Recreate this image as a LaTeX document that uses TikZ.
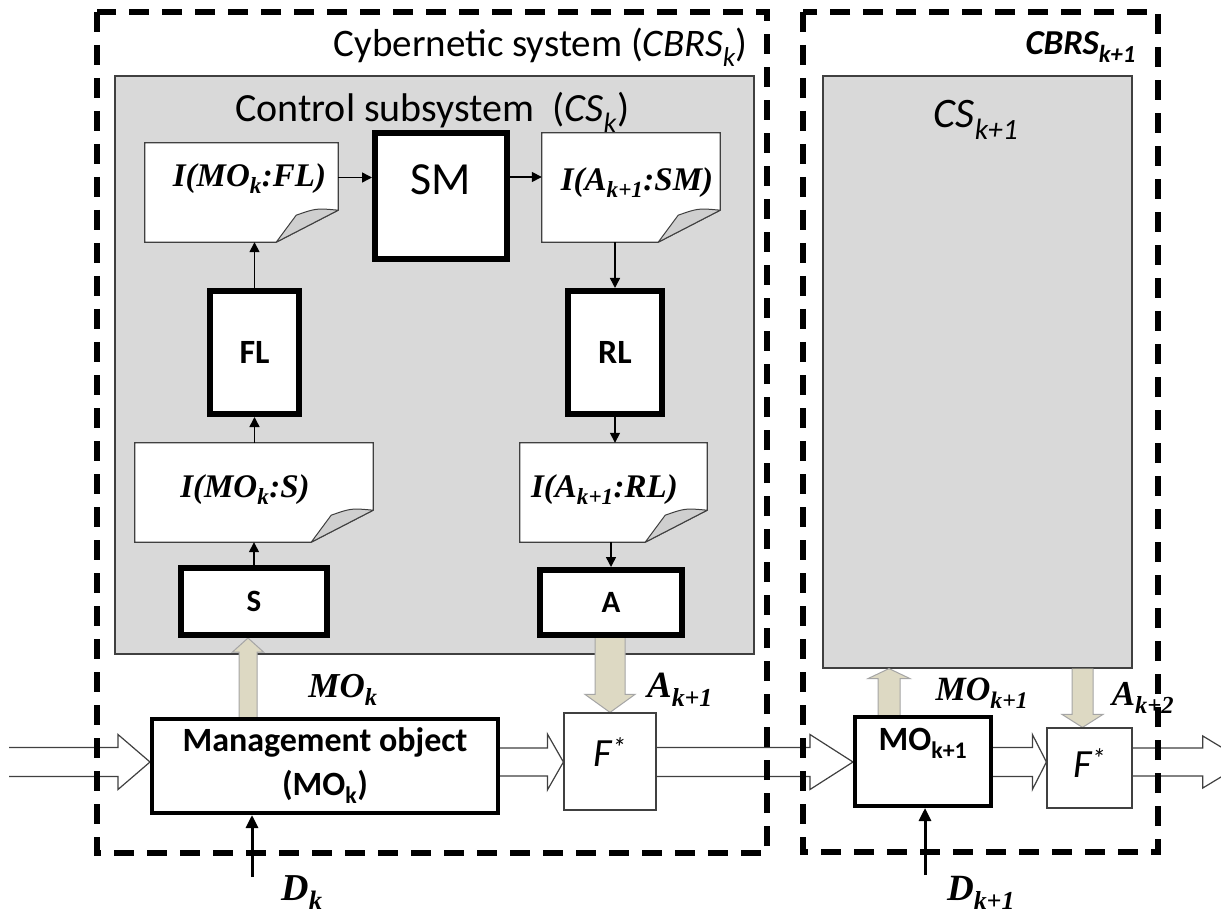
\documentclass[tikz,border=0pt]{standalone}
\usepackage{fontspec}
\setmainfont{Liberation Serif}
\newfontfamily\calib{Carlito}
\usetikzlibrary{calc,arrows.meta}
\definecolor{csgray}{HTML}{D9D9D9}
\definecolor{beige}{HTML}{DDD9C3}
\definecolor{beigeline}{HTML}{A5A5A5}
\definecolor{darkline}{HTML}{404040}
\definecolor{foldgray}{HTML}{CFCFCF}
\pgfdeclarelayer{back}
\pgfdeclarelayer{mid}
\pgfsetlayers{back,mid,main}

\newcommand\docnode[7]{% name, cx, cy, w, h, text shift, text
  \node[docarea, minimum width=#4pt, minimum height=#5pt] (#1) at (#2,#3) {};
  \draw[docline] (#1.north west) -- (#1.north east) -- ([yshift=32pt]#1.south east)
     -- ([xshift=-62pt]#1.south east) -- (#1.south west) -- cycle;
  \draw[fold] ([xshift=-62pt]#1.south east) -- ([xshift=-42pt,yshift=27pt]#1.south east)
     .. controls ([xshift=-22pt,yshift=34pt]#1.south east) .. ([yshift=32pt]#1.south east) -- cycle;
  \node[doctext] at ([#6]#1.center) {#7};
}
\newcommand\hblock[5]{% from, to, shaft half, head half, head length
  \draw[blk] let \p1=(#1.east), \p2=(#2.west), \p3=(flow) in
    (\x1,\y3+#3pt) -- (\x2-#5pt,\y3+#3pt) -- (\x2-#5pt,\y3+#4pt) -- (\x2,\y3)
    -- (\x2-#5pt,\y3-#4pt) -- (\x2-#5pt,\y3-#3pt) -- (\x1,\y3-#3pt);
}
\newcommand\vup[6]{% tail, tip, xref, shaft half, head half, head length
  \draw[beigearrow] let \p1=(#1), \p2=(#2), \p3=(#3) in
    (\x3-#4pt,\y1) -- (\x3-#4pt,\y2-#6pt) -- (\x3-#5pt,\y2-#6pt) -- (\x3,\y2)
    -- (\x3+#5pt,\y2-#6pt) -- (\x3+#4pt,\y2-#6pt) -- (\x3+#4pt,\y1);
}
\newcommand\vdown[6]{% tail, tip, xref, shaft half, head half, head length
  \draw[beigearrow] let \p1=(#1), \p2=(#2), \p3=(#3) in
    (\x3-#4pt,\y1) -- (\x3-#4pt,\y2+#6pt) -- (\x3-#5pt,\y2+#6pt) -- (\x3,\y2)
    -- (\x3+#5pt,\y2+#6pt) -- (\x3+#4pt,\y2+#6pt) -- (\x3+#4pt,\y1);
}

\begin{document}
\begin{tikzpicture}[x=1pt,y=-1pt,
  dashbox/.style={draw, line width=6pt, dash pattern=on 20pt off 13pt},
  grayarea/.style={draw=darkline, fill=csgray, line width=1.2pt, inner sep=0},
  thickbox/.style={draw, line width=6pt, fill=white, inner sep=0},
  medbox/.style={draw, line width=4pt, fill=white, inner sep=0},
  thinbox/.style={draw=darkline, line width=1.2pt, fill=white, inner sep=0},
  docarea/.style={inner sep=0},
  docline/.style={draw=darkline, fill=white, line width=1.2pt},
  fold/.style={draw=darkline, fill=foldgray, line width=1pt, line join=round},
  doctext/.style={font=\fontsize{33}{37}\selectfont\bfseries\itshape, inner sep=0},
  conn/.style={-{Triangle[length=10pt,width=10pt]}, line width=1.5pt},
  dconn/.style={-{Triangle[length=13pt,width=12pt]}, line width=3pt},
  blk/.style={draw=darkline, fill=white, line width=1.2pt},
  beigearrow/.style={draw=beigeline, fill=beige, line width=1pt},
  sanstitle/.style={font=\calib\fontsize{39}{44}\selectfont, inner sep=0},
  boxtext/.style={font=\calib\fontsize{34}{38}\selectfont\bfseries, inner sep=0},
  smalltext/.style={font=\calib\fontsize{31}{35}\selectfont\bfseries, inner sep=0},
  serlabel/.style={font=\fontsize{35}{39}\selectfont\bfseries\itshape, inner sep=0},
  ftext/.style={font=\calib\fontsize{40}{44}\selectfont\itshape, inner sep=0}
]
\useasboundingbox (0,0) rectangle (1221,917);
\begin{pgfonlayer}{back}
\fill[white] (0,0) rectangle (1221,917);
\end{pgfonlayer}

% gray control subsystems
\begin{pgfonlayer}{back}
\node[grayarea, minimum width=639pt, minimum height=578pt] (cs1) at (434.5,365) {};
\node[grayarea, minimum width=309pt, minimum height=592pt] (cs2) at (977.5,372) {};
\end{pgfonlayer}

% titles
\node[sanstitle, anchor=east] (t1) at (748,47) {Cybernetic system (\textit{CBRS}\textsubscript{\textit{k}})};
\node[sanstitle, font=\calib\fontsize{40}{44}\selectfont, anchor=west] (t2) at (235,112) {Control subsystem\ \ (\textit{CS}\textsubscript{\textit{k}})};
\node[font=\calib\fontsize{35}{40}\selectfont\bfseries\itshape, inner sep=0, anchor=east] (t3) at (1136,47) {CBRS\textsubscript{k+1}};
\node[font=\calib\fontsize{42}{46}\selectfont\itshape, inner sep=0] (t4) at (976,120) {CS\textsubscript{k+1}};

% documents
\docnode{dfl}{241.5}{192.5}{193}{99}{xshift=8pt,yshift=14pt}{I(MO\textsubscript{k}:FL)}
\docnode{dsm}{631}{187.5}{178}{109}{xshift=6pt,yshift=5pt}{I(A\textsubscript{k+1}:SM)}
\docnode{ds}{254}{492.5}{238}{99}{xshift=-9pt,yshift=3pt}{I(MO\textsubscript{k}:S)}
\docnode{drl}{613.5}{492.5}{187}{99}{xshift=-9pt,yshift=3pt}{I(A\textsubscript{k+1}:RL)}

% thick boxes
\node[thickbox, minimum width=132pt, minimum height=126pt] (sm) at (441,196) {};
\node[font=\calib\fontsize{46}{50}\selectfont, inner sep=0] at ([yshift=16pt]sm.center) {SM};
\node[thickbox, boxtext, minimum width=89pt, minimum height=123pt] (fl) at (254.5,352.5) {FL};
\node[thickbox, boxtext, minimum width=94pt, minimum height=123pt] (rl) at (615,352.5) {RL};
\node[thickbox, smalltext, minimum width=146pt, minimum height=67pt] (sbox) at (254,601.5) {S};
\node[thickbox, smalltext, minimum width=142pt, minimum height=65pt] (abox) at (611,602.5) {A};

% lower row
\node[medbox, minimum width=346pt, minimum height=94pt, align=center,
      font=\calib\fontsize{34}{44}\selectfont\bfseries] (mo) at (325,766) {Management object\\(MO\textsubscript{k})};
\node[thinbox, minimum width=92pt, minimum height=97pt] (f1) at (610,761.5) {};
\node[ftext] at ([yshift=9pt]f1.center) {F\textsuperscript{*}};
\node[medbox, minimum width=136pt, minimum height=89pt] (mo2) at (923,761.5) {};
\node[font=\calib\fontsize{34}{38}\selectfont\bfseries, inner sep=0] at ([yshift=18pt]mo2.center) {MO\textsubscript{k+1}};
\node[thinbox, minimum width=85pt, minimum height=80pt] (f2) at (1089.5,768) {};
\node[ftext] at ([yshift=5pt]f2.center) {F\textsuperscript{*}};

\coordinate (flow) at (0,762);
\node[inner sep=0, minimum size=0pt] (in) at (9,762) {};
\node[inner sep=0, minimum size=0pt] (out) at (1246,762) {};

% thin connectors
\draw[conn] (sbox.north) -- (ds.south -| sbox.north);
\draw[conn] (fl.south |- ds.north) -- (fl.south);
\draw[conn] (fl.north) -- (fl.north |- dfl.south);
\draw[conn] ([yshift=15pt]dfl.east) -- ([yshift=15pt]dfl.east -| sm.west);
\draw[conn] ([yshift=19pt]sm.east) -- ([yshift=19pt]sm.east -| dsm.west);
\draw[conn] (rl.north |- dsm.south) -- (rl.north);
\draw[conn] (rl.south) -- (rl.south |- drl.north);
\draw[conn] (abox.north |- drl.south) -- (abox.north);

% block arrows
\begin{pgfonlayer}{mid}
\hblock{in}{mo}{14.5}{27.5}{32}
\hblock{mo}{f1}{14}{28}{16}
\hblock{f1}{mo2}{14.5}{27.5}{43}
\hblock{mo2}{f2}{14.5}{27.5}{14}
\hblock{f2}{out}{14}{26}{43}
\vup{mo.north}{sbox.south}{[xshift=-6pt]sbox.south}{9}{15.5}{14}
\vdown{abox.south}{f1.north}{f1.north}{15}{25}{18}
\vup{mo2.north}{cs2.south}{[xshift=-34pt]mo2.north}{11}{21}{10}
\vdown{cs2.south}{f2.north}{[xshift=-7pt]f2.north}{10.5}{20.5}{13}
\end{pgfonlayer}

% disturbance inputs
\node[font=\fontsize{38}{42}\selectfont\bfseries\itshape, inner sep=0, anchor=base] (dk) at (302,900) {D\textsubscript{k}};
\node[font=\fontsize{37}{41}\selectfont\bfseries\itshape, inner sep=0, anchor=base] (dk1) at (981,900) {D\textsubscript{k+1}};
\coordinate (dkt) at (252,877);
\coordinate (dk1t) at (925,875);
\draw[dconn] (dkt) -- (dkt |- mo.south);
\draw[dconn] (dk1t) -- (dk1t |- mo2.south);

% signal labels
\node[serlabel] (lmo) at (343,690) {MO\textsubscript{k}};
\node[serlabel, font=\fontsize{37}{40}\selectfont\bfseries\itshape] (la) at (680,690) {A\textsubscript{k+1}};
\node[serlabel, font=\fontsize{34}{38}\selectfont\bfseries\itshape] (lmo2) at (982,693) {MO\textsubscript{k+1}};
\node[serlabel] (la2) at (1143,698) {A\textsubscript{k+2}};

% dashed system borders
\draw[dashbox] (97,12) rectangle (767,853);
\draw[dashbox] (803,12) rectangle (1158,852);
\end{tikzpicture}
\end{document}
